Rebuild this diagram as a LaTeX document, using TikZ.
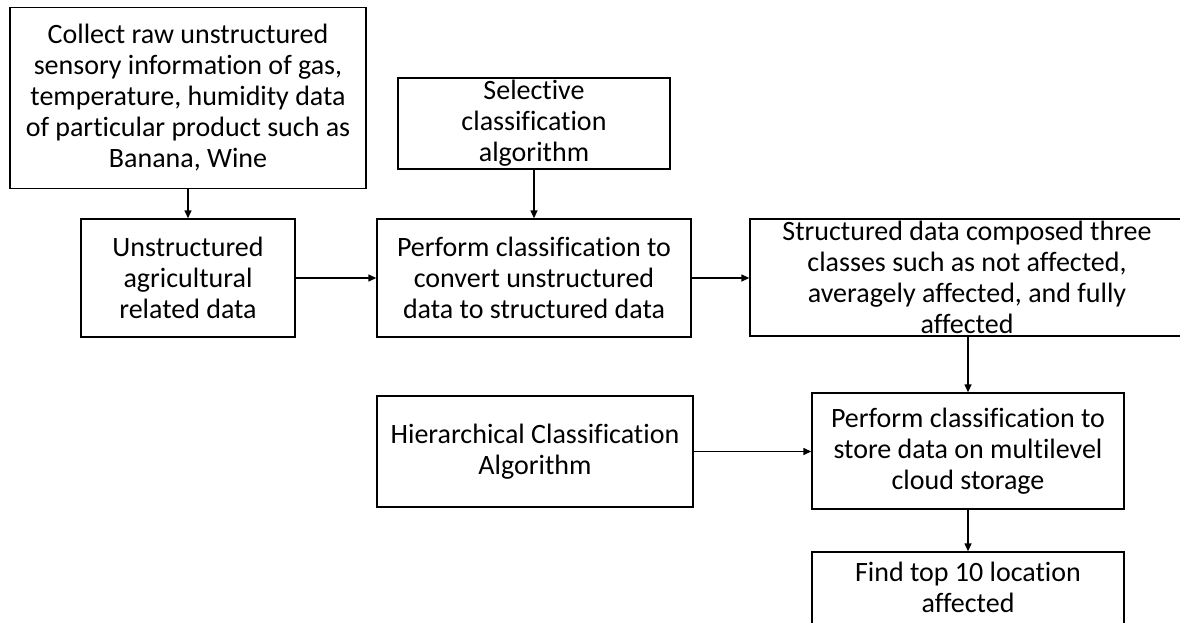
\documentclass[tikz,border=0pt]{standalone}
\usepackage{fontspec}
\setmainfont{Carlito}[Ligatures=NoCommon]
\usetikzlibrary{arrows.meta}
\begin{document}
\begin{tikzpicture}[x=1pt,y=-1pt,
  box/.style={draw, line width=1.4pt, inner sep=0pt, align=center, font=\fontsize{28}{31}\selectfont},
  txt/.style={inner sep=0pt, align=center, font=\fontsize{28}{31}\selectfont},
  arr/.style={-{Triangle[length=8pt,width=7pt]}, line width=1.4pt}]
\useasboundingbox (0,0) rectangle (1180,623);
\fill[white] (0,0) rectangle (1180,623);
\clip (0,0) rectangle (1180,623);
\node[box, minimum width=356pt, minimum height=181pt] (A) at (188,98)
  {Collect raw unstructured\\sensory information of gas,\\temperature, humidity data\\of particular product such as\\Banana, Wine};
\node[box, minimum width=214pt, minimum height=118pt] (B) at (188,278)
  {Unstructured\\agricultural\\related data};
\node[box, minimum width=272pt, minimum height=91pt] (C) at (534,123.5)
  {Selective\\classification\\algorithm};
\node[box, minimum width=314pt, minimum height=118pt] (D) at (534,278)
  {Perform classification to\\convert unstructured\\data to structured data};
\node[box, minimum width=440pt, minimum height=117pt] (E) at (970,277.5) {};
\node[txt, anchor=north] (Et) at (967,221)
  {Structured data composed three\\classes such as not affected,\\averagely affected, and fully\\affected};
\node[box, minimum width=316pt, minimum height=111pt] (F) at (535,451.5)
  {Hierarchical Classification\\Algorithm};
\node[box, minimum width=312pt, minimum height=116pt] (G) at (968,451)
  {Perform classification to\\store data on multilevel\\cloud storage};
\node[box, minimum width=312pt, minimum height=88pt] (H) at (968,596) {};
\node[txt, anchor=north] (Ht) at (968,562)
  {Find top 10 location\\affected};
\draw[arr] (A.south) -- (B.north);
\draw[arr] (C.south) -- (D.north);
\draw[arr] (B.east) -- (D.west);
\draw[arr] (D.east) -- (D.east -| E.west);
\draw[arr] (E.south -| G.north) -- (G.north);
\draw[arr] (F.east) -- (F.east -| G.west);
\draw[arr] (G.south) -- (H.north);
\end{tikzpicture}
\end{document}
